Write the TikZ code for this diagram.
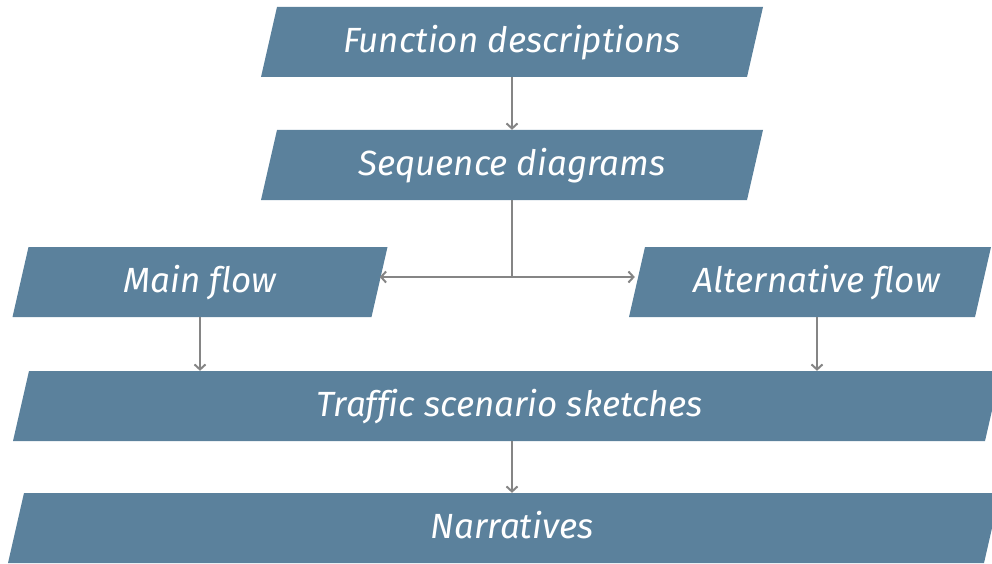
\documentclass[tikz,border=0pt]{standalone}
\usepackage{fontspec}
\setmainfont{Fira Sans}[Ligatures=NoCommon]
\usetikzlibrary{arrows.meta,calc}
\definecolor{boxblue}{HTML}{5B819C}
\definecolor{arrowgray}{HTML}{858585}
\newcommand\parabox[5]{%
  \fill[boxblue] (#2-#4/2+8,#3-35) -- (#2+#4/2+8,#3-35) -- (#2+#4/2-8,#3+35) -- (#2-#4/2-8,#3+35) -- cycle;
  \node[para, minimum width=#4] (#1) at (#2,#3) {#5};}
\begin{document}
\begin{tikzpicture}[x=1pt,y=-1pt,
  para/.style={minimum height=70pt, inner sep=0pt, text=white,
    font=\fontsize{35}{42}\selectfont\itshape, text height=21pt, text depth=0pt},
  conn/.style={draw=arrowgray, line width=2pt, -{Straight Barb[length=5pt,width=11pt]}}]
\useasboundingbox (0,0) rectangle (992,564);
\parabox{func}{512}{42}{486}{Function descriptions}
\parabox{seq}{512}{165}{486}{Sequence diagrams}
\parabox{main}{200}{282}{359}{Main flow}
\parabox{alt}{810}{282}{346}{\hspace*{14pt}Alternative flow}
\parabox{traffic}{507}{406}{972}{\hspace*{6pt}Traffic scenario sketches}
\parabox{narr}{504}{528}{976}{\hspace*{16pt}Narratives}
\coordinate (j) at (512,277);
\draw[conn] (func.south -| j) -- (seq.north -| j);
\draw[draw=arrowgray, line width=2pt] (seq.south -| j) -- (j);
\draw[conn] (j) -- (j -| main.east);
\draw[conn] (j) -- ($(j -| alt.west)+(-2,0)$);
\draw[conn] (main.south) -- (traffic.north -| main.south);
\draw[conn] ($(alt.south)+(7,0)$) -- ($(traffic.north -| alt.south)+(7,0)$);
\draw[conn] (traffic.south -| j) -- (narr.north -| j);
\end{tikzpicture}
\end{document}
